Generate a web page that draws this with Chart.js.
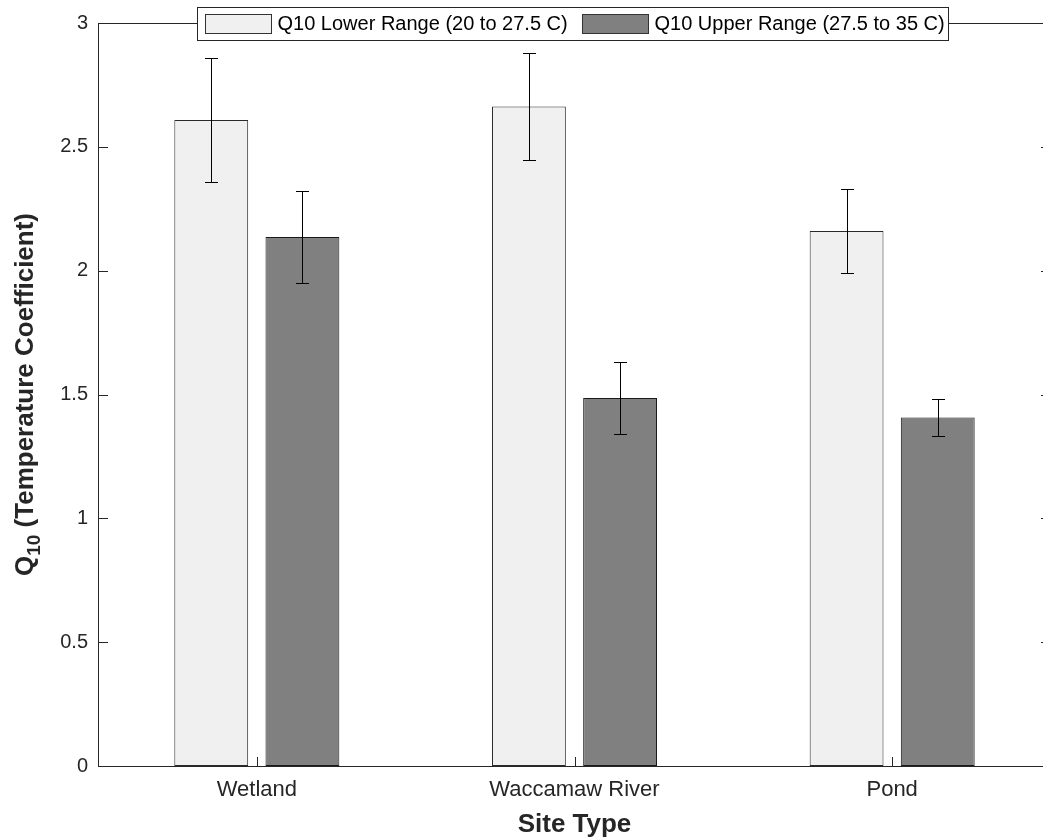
<!DOCTYPE html>
<html>
<head>
<meta charset="utf-8">
<script src="https://cdn.jsdelivr.net/npm/chart.js@4.4.1/dist/chart.umd.min.js"></script>
<style>
    html, body { margin: 0; padding: 0; background: #ffffff; overflow: hidden; }
    #wrap { position: absolute; left: 0; top: 0; width: 1060px; height: 840px; }
</style>
</head>
<body>
<div id="wrap"><canvas id="q10-chart"></canvas></div>
<script>
// Site categories and Q10 means / error half-widths
const categories = ["Wetland", "Waccamaw River", "Pond"];
const lowerRange = [2.608, 2.663, 2.160];
const lowerErr = [0.25, 0.215, 0.17];
const upperRange = [2.136, 1.486, 1.407];
const upperErr = [0.185, 0.146, 0.073];
const yTicks = [0, 0.5, 1, 1.5, 2, 2.5, 3];
const seriesLabels = ["Q10 Lower Range (20 to 27.5 C)", "Q10 Upper Range (27.5 to 35 C)"];

const FONT = '"Liberation Sans", Arial, Helvetica, sans-serif';
const axisColor = "#262626";
const lightFill = "#f0f0f0";
const darkFill = "#808080";

// error bars, box ticks, legend and axis titles drawn on top
const matlabLook = {
    id: "matlabLook",
    afterDatasetsDraw(chart) {
        const { ctx } = chart;
        const y = chart.scales.y;
        const errs = [lowerErr, upperErr];
        ctx.save();
        ctx.strokeStyle = "#000000";
        ctx.lineWidth = 1;
        chart.data.datasets.forEach((ds, di) => {
            const meta = chart.getDatasetMeta(di);
            meta.data.forEach((bar, i) => {
                const v = ds.data[i];
                const e = errs[di][i];
                const x = Math.round(bar.x) + 0.5;
                const yt = Math.round(y.getPixelForValue(v + e)) + 0.5;
                const yb = Math.round(y.getPixelForValue(v - e)) + 0.5;
                ctx.beginPath();
                ctx.moveTo(x, yt);
                ctx.lineTo(x, yb);
                ctx.moveTo(x - 6.5, yt);
                ctx.lineTo(x + 6.5, yt);
                ctx.moveTo(x - 6.5, yb);
                ctx.lineTo(x + 6.5, yb);
                ctx.stroke();
            });
        });
        ctx.restore();
    },
    afterDraw(chart) {
        const { ctx, chartArea: a } = chart;
        const x = chart.scales.x;
        const y = chart.scales.y;
        ctx.save();
        ctx.strokeStyle = axisColor;
        ctx.lineWidth = 1;

        // top and right box lines
        ctx.beginPath();
        ctx.moveTo(a.left, Math.round(a.top) + 0.5);
        ctx.lineTo(a.right, Math.round(a.top) + 0.5);
        ctx.moveTo(Math.round(a.right) - 0.5, a.top);
        ctx.lineTo(Math.round(a.right) - 0.5, a.bottom);
        // inward y ticks on both sides
        yTicks.forEach((t) => {
            const py = Math.round(y.getPixelForValue(t)) + 0.5;
            ctx.moveTo(a.left, py);
            ctx.lineTo(a.left + 10, py);
            ctx.moveTo(a.right - 10, py);
            ctx.lineTo(a.right, py);
        });
        // inward x ticks
        categories.forEach((c, i) => {
            const px = Math.round(x.getPixelForValue(i)) + 0.5;
            ctx.moveTo(px, a.bottom);
            ctx.lineTo(px, a.bottom - 9);
        });
        ctx.stroke();

        // legend
        const lx = 197.5, ly = 7.5, lw = 751, lh = 33;
        ctx.fillStyle = "#ffffff";
        ctx.fillRect(lx, ly, lw, lh);
        ctx.strokeStyle = axisColor;
        ctx.strokeRect(lx, ly, lw, lh);
        const fills = [lightFill, darkFill];
        const swX = [205.5, 582.5];
        ctx.font = "20px " + FONT;
        ctx.textBaseline = "middle";
        ctx.textAlign = "left";
        seriesLabels.forEach((lab, i) => {
            ctx.fillStyle = fills[i];
            ctx.fillRect(swX[i], 14.5, 66, 19);
            ctx.strokeStyle = "#333333";
            ctx.strokeRect(swX[i], 14.5, 66, 19);
            ctx.fillStyle = "#000000";
            ctx.fillText(lab, swX[i] + 72, 24.5);
        });

        // x axis title
        ctx.fillStyle = axisColor;
        ctx.font = "bold 26px " + FONT;
        ctx.textAlign = "center";
        ctx.textBaseline = "alphabetic";
        ctx.fillText("Site Type", (a.left + a.right) / 2, 832);

        // y axis title with subscript
        const main = "Q";
        const sub = "10";
        const rest = " (Temperature Coefficient)";
        ctx.font = "bold 26px " + FONT;
        const w1 = ctx.measureText(main).width;
        const w3 = ctx.measureText(rest).width;
        ctx.font = "bold 19px " + FONT;
        const w2 = ctx.measureText(sub).width;
        const total = w1 + w2 + w3;
        ctx.translate(33, (a.top + a.bottom) / 2);
        ctx.rotate(-Math.PI / 2);
        ctx.textAlign = "left";
        let cx = -total / 2;
        ctx.font = "bold 26px " + FONT;
        ctx.fillText(main, cx, 0);
        cx += w1;
        ctx.font = "bold 19px " + FONT;
        ctx.fillText(sub, cx, 7);
        cx += w2;
        ctx.font = "bold 26px " + FONT;
        ctx.fillText(rest, cx, 0);
        ctx.restore();
    },
};

const ctx = document.getElementById("q10-chart");

new Chart(ctx, {
    type: "bar",
    data: {
        labels: categories,
        datasets: [
            {
                label: seriesLabels[0],
                data: lowerRange,
                backgroundColor: lightFill,
                borderColor: "#2a2a2a",
                borderWidth: 1,
                borderSkipped: false,
                categoryPercentage: 0.574,
                barPercentage: 0.81,
            },
            {
                label: seriesLabels[1],
                data: upperRange,
                backgroundColor: darkFill,
                borderColor: "#1a1a1a",
                borderWidth: 1,
                borderSkipped: false,
                categoryPercentage: 0.574,
                barPercentage: 0.81,
            },
        ],
    },
    options: {
        responsive: true,
        maintainAspectRatio: false,
        animation: false,
        layout: { padding: { left: 0, top: 23, right: 9, bottom: 0 } },
        scales: {
            x: {
                grid: { display: false },
                border: { display: true, color: axisColor, width: 1 },
                ticks: {
                    color: axisColor,
                    font: { family: FONT, size: 22 },
                    padding: 3,
                    maxRotation: 0,
                },
                afterFit: (s) => { s.height = 74; },
            },
            y: {
                min: 0,
                max: 3,
                grid: { display: false },
                border: { display: true, color: axisColor, width: 1 },
                afterBuildTicks: (s) => { s.ticks = yTicks.map((v) => ({ value: v })); },
                ticks: {
                    color: axisColor,
                    font: { family: FONT, size: 20 },
                    padding: 2,
                    callback: (v) => String(v),
                },
                afterFit: (s) => { s.width = 98; },
            },
        },
        plugins: {
            legend: { display: false },
            tooltip: { enabled: false },
        },
    },
    plugins: [matlabLook],
});
</script>
</body>
</html>
